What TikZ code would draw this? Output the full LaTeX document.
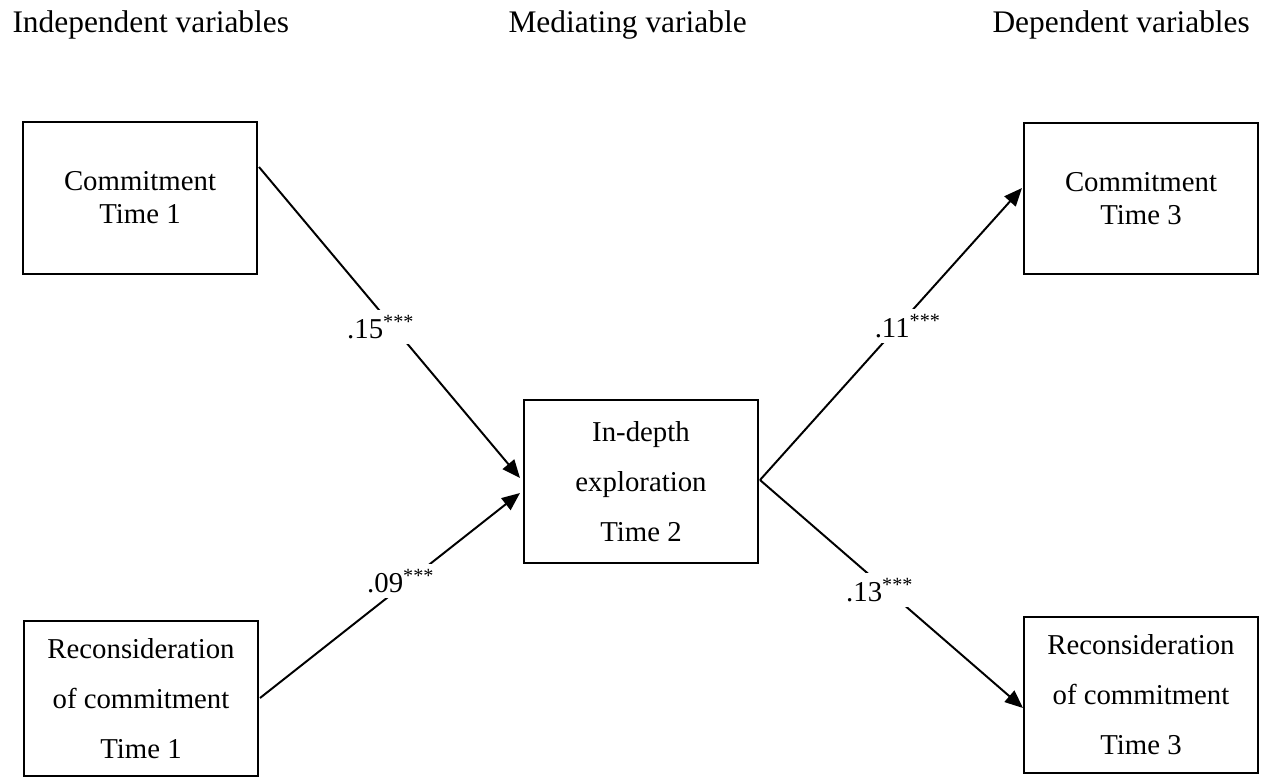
\documentclass[tikz,border=0pt]{standalone}
\usepackage{fontspec}
\setmainfont{Liberation Serif}
\usetikzlibrary{arrows.meta,calc}

\tikzset{
  varbox/.style={draw, line width=0.75pt, inner sep=0pt, minimum width=89.4pt,
    align=center, font=\fontsize{11}{12.6}\selectfont},
  widebox/.style={varbox, font=\fontsize{11}{19.1}\selectfont},
  path/.style={line width=0.75pt, -{Triangle[length=6.9pt,width=5.7pt]}},
  coef/.style={fill=white, inner xsep=0.5pt, inner ysep=2pt, font=\fontsize{11}{13}\selectfont},
  heading/.style={anchor=base west, inner sep=0pt, font=\fontsize{12}{14}\selectfont}
}

\begin{document}
\begin{tikzpicture}[x=0.382pt, y=-0.382pt]
  \useasboundingbox (0,0) rectangle (1267,777);

  % column headings
  \node[heading] (hind) at (12,32) {Independent variables};
  \node[heading] (hmed) at (508,32) {Mediating variable};
  \node[heading] (hdep) at (992,32) {Dependent variables};

  % variables
  \node[varbox, minimum height=58.1pt] (c1) at (140,198) {Commitment\\Time 1};
  \node[widebox, minimum height=59.2pt] (r1) at (141,698.5) {Reconsideration\\of commitment\\Time 1};
  \node[widebox, minimum height=62.3pt] (med) at (641,481.5) {In-depth\\exploration\\Time 2};
  \node[varbox, minimum height=57.7pt] (c3) at (1141,198.5) {Commitment\\Time 3};
  \node[widebox, minimum height=59.6pt] (r3) at (1141,695) {Reconsideration\\of commitment\\Time 3};

  % paths
  \coordinate (fork) at ($(med.east)+(1,-1.5)$);
  \draw[path] ($(c1.east)+(1,-31)$) -- ($(med.west)+(-3,-3.5)$);
  \draw[path] ($(r1.east)+(1,-0.5)$) -- ($(med.west)+(-3,11.5)$);
  \draw[path] (fork) -- ($(c3.west)+(-1,-10.5)$);
  \draw[path] (fork) -- ($(r3.west)+(0,13)$);

  % path coefficients
  \node[coef] (b1) at (381,327) {.15\textsuperscript{***}};
  \node[coef] (b2) at (401,581) {.09\textsuperscript{***}};
  \node[coef] (b3) at (908,326) {.11\textsuperscript{***}};
  \node[coef] (b4) at (880,590) {.13\textsuperscript{***}};
\end{tikzpicture}
\end{document}
